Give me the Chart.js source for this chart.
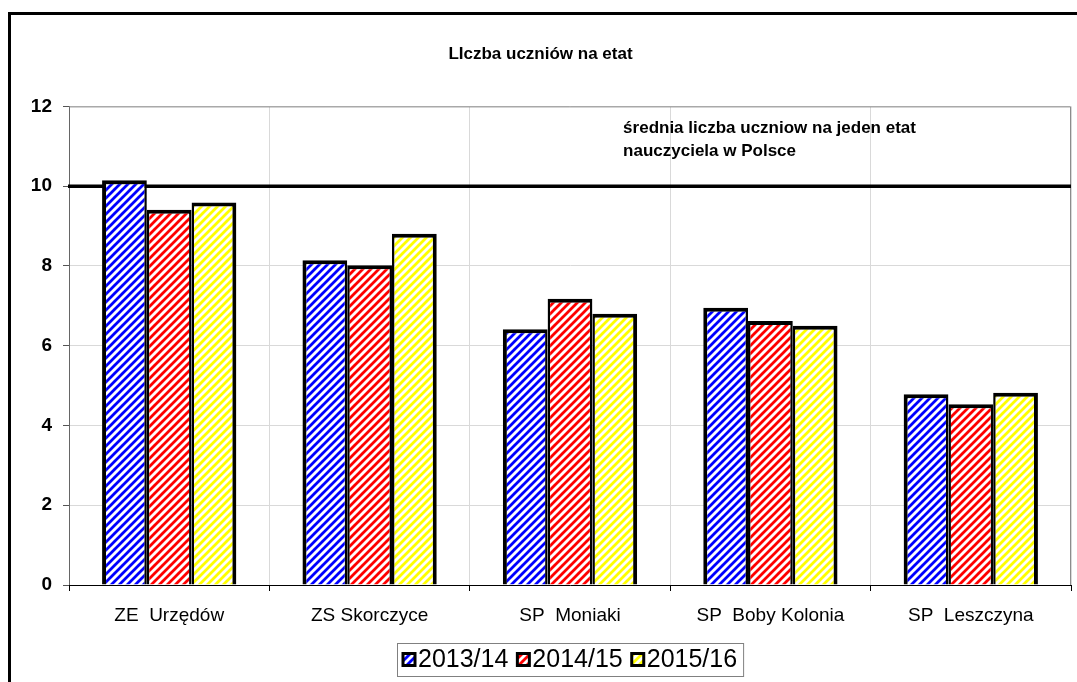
<!DOCTYPE html>
<html>
<head>
<meta charset="utf-8">
<script src="https://cdn.jsdelivr.net/npm/chart.js@4.4.1/dist/chart.umd.min.js"></script>
<style>
  body { margin: 0; background: #fff; }
  #wrap { width: 1077px; height: 682px; position: relative; }
</style>
</head>
<body>
<div id="wrap"><canvas id="chart"></canvas></div>
<script>
// ===== data =====
let categories = ['ZE  Urzędów', 'ZS Skorczyce', 'SP  Moniaki', 'SP  Boby Kolonia', 'SP  Leszczyna'];
let seriesLabels = ['2013/14', '2014/15', '2015/16'];
let values2013 = [10.15, 8.14, 6.41, 6.95, 4.78];
let values2014 = [9.41, 8.02, 7.18, 6.62, 4.53];
let values2015 = [9.59, 8.81, 6.80, 6.50, 4.82];
let yTicks = [0, 2, 4, 6, 8, 10, 12];
let avgValue = 10;
let avgNote = ['średnia liczba uczniow na jeden etat', 'nauczyciela w Polsce'];
let chartTitle = 'LIczba uczniów na etat';

const FONT = '"Liberation Sans", Arial, sans-serif';

// ===== striped fills =====
function stripes(color){
    const s = 8;
    const c = document.createElement('canvas');
    c.width = s; c.height = s;
    const g = c.getContext('2d');
    g.fillStyle = '#fff';
    g.fillRect(0, 0, s, s);
    g.strokeStyle = color;
    g.lineWidth = 2.8;
    g.beginPath();
    g.moveTo(0, s); g.lineTo(s, 0);
    g.moveTo(-1, 1); g.lineTo(1, -1);
    g.moveTo(s - 1, s + 1); g.lineTo(s + 1, s - 1);
    g.stroke();
    return g.createPattern(c, 'repeat');
}
const fills = [stripes('#0000ff'), stripes('#ff0000'), stripes('#ffff00')];

// ===== frame, average line, note, legend =====
const extras = {
    id: 'extras',
    beforeDraw(chart){
        const ctx = chart.ctx;
        ctx.save();
        ctx.strokeStyle = '#000';
        ctx.lineWidth = 3;
        ctx.beginPath();
        ctx.moveTo(9.5, chart.height + 2);
        ctx.lineTo(9.5, 13.5);
        ctx.lineTo(chart.width + 2, 13.5);
        ctx.stroke();
        ctx.restore();
    },
    beforeDatasetsDraw(chart){
        const ctx = chart.ctx, a = chart.chartArea;
        const y = chart.scales.y.getPixelForValue(avgValue);
        ctx.save();
        // plot border top / right
        ctx.strokeStyle = '#8c8c8c';
        ctx.lineWidth = 1;
        ctx.beginPath();
        ctx.moveTo(a.left, a.top + 0.5);
        ctx.lineTo(a.right - 0.5, a.top + 0.5);
        ctx.lineTo(a.right - 0.5, a.bottom);
        ctx.stroke();
        // average line
        ctx.strokeStyle = '#000';
        ctx.lineWidth = 3.5;
        ctx.beginPath();
        ctx.moveTo(a.left - 1, y);
        ctx.lineTo(a.right, y);
        ctx.stroke();
        // note
        ctx.fillStyle = '#000';
        ctx.font = 'bold 17px ' + FONT;
        ctx.textBaseline = 'middle';
        ctx.textAlign = 'left';
        const nx = a.left + a.width * 0.553;
        ctx.fillText(avgNote[0], nx, y - 58);
        ctx.fillText(avgNote[1], nx, y - 35);
        ctx.restore();
    },
    afterDraw(chart){
        const ctx = chart.ctx, a = chart.chartArea;
        ctx.save();
        ctx.font = '25px ' + FONT;
        ctx.textBaseline = 'middle';
        const box = 12, gap = 3, sep = 9, margin = 6;
        const widths = seriesLabels.map(t => ctx.measureText(t).width);
        let total = margin * 2 + sep * (seriesLabels.length - 1);
        widths.forEach(w => total += box + gap + w);
        const cx = (a.left + a.right) / 2;
        const top = 643, h = 33, cy = top + h / 2;
        let x = Math.round(cx - total / 2);
        ctx.strokeStyle = '#808080';
        ctx.lineWidth = 1;
        ctx.strokeRect(x + 0.5, top + 0.5, total, h);
        x += margin;
        seriesLabels.forEach((t, i) => {
            ctx.fillStyle = fills[i];
            ctx.fillRect(x, cy - box / 2, box, box);
            ctx.strokeStyle = '#000';
            ctx.lineWidth = 3;
            ctx.strokeRect(x, cy - box / 2, box, box);
            x += box + gap;
            ctx.fillStyle = '#000';
            ctx.fillText(t, x, cy + 1);
            x += widths[i] + sep;
        });
        ctx.restore();
    }
};

const sideBorders = [
    {top: 4, left: 4, right: 2.5, bottom: 0},
    {top: 4, left: 2.5, right: 2.5, bottom: 0},
    {top: 4, left: 2.5, right: 4, bottom: 0}
];
const seriesValues = [values2013, values2014, values2015];

const ctx = document.getElementById('chart').getContext('2d');
const myChart = new Chart(ctx, {
    type: 'bar',
    data: {
        labels: categories,
        datasets: seriesLabels.map((label, i) => ({
            label: label,
            data: seriesValues[i],
            backgroundColor: fills[i],
            borderColor: '#000',
            borderWidth: sideBorders[i],
            borderSkipped: false,
            categoryPercentage: 0.67,
            barPercentage: 1
        }))
    },
    options: {
        responsive: true,
        maintainAspectRatio: false,
        animation: false,
        devicePixelRatio: 1,
        layout: {
            padding: {left: 10, right: 6, top: 30, bottom: 57}
        },
        scales: {
            y: {
                min: 0,
                max: 12,
                afterBuildTicks: s => { s.ticks = yTicks.map(v => ({value: v})); },
                afterFit: s => { s.width = 59; },
                ticks: {
                    color: '#000',
                    padding: 11,
                    font: {family: FONT, size: 19, weight: 'bold'}
                },
                grid: {
                    color: '#d9d9d9',
                    tickColor: '#555',
                    tickLength: 6
                },
                border: {color: '#666', width: 1}
            },
            x: {
                afterFit: s => { s.height = 40; },
                ticks: {
                    color: '#000',
                    padding: 13,
                    font: {family: FONT, size: 19}
                },
                grid: {
                    offset: true,
                    color: '#d9d9d9',
                    tickColor: '#000',
                    tickLength: 6
                },
                border: {color: '#000', width: 1}
            }
        },
        plugins: {
            legend: {display: false},
            tooltip: {enabled: false},
            title: {
                display: true,
                text: chartTitle,
                color: '#000',
                font: {family: FONT, size: 17, weight: 'bold'},
                padding: {top: 14, bottom: 42}
            }
        }
    },
    plugins: [extras]
});
</script>
</body>
</html>
